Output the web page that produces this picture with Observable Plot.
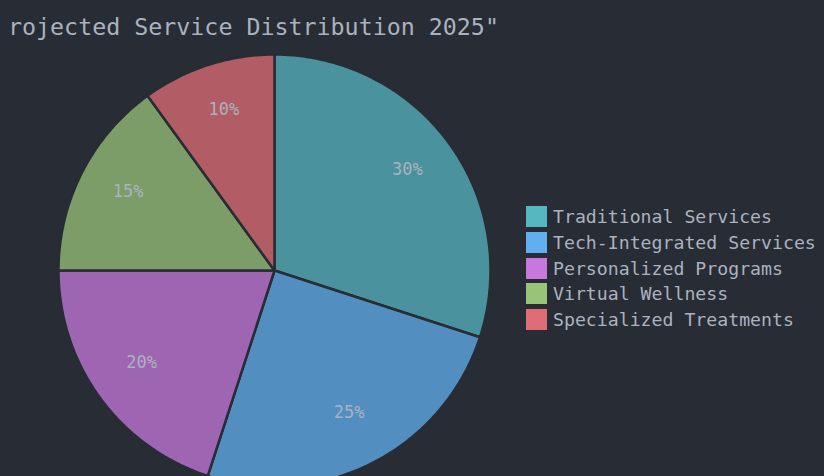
<!DOCTYPE html>
<html>
<head>
<meta charset="utf-8">
<script src="https://cdn.jsdelivr.net/npm/d3@7"></script>
<script src="https://cdn.jsdelivr.net/npm/@observablehq/plot@0.6"></script>
<style>
  html, body { margin: 0; padding: 0; background: #282c34; }
  #wrap { position: relative; width: 824px; height: 476px; overflow: hidden; background: #282c34; }
  #title { position: absolute; left: 8px; top: 12px; white-space: nowrap; font-family: "DejaVu Sans Mono", monospace; font-size: 23.3px; color: #abb2bf; line-height: 30px; }
  #legend { position: absolute; left: 526px; top: 204px; font-family: "DejaVu Sans Mono", monospace; font-size: 18.2px; color: #abb2bf; }
  .row { display: flex; align-items: center; height: 25.7px; }
  .sw { width: 21px; height: 21px; margin-right: 6px; }
</style>
</head>
<body>
<div id="wrap">
  <div id="chart"></div>
  <div id="title"></div>
  <div id="legend"></div>
</div>
<script>
// Title as visible in the reference (its start is cut off at the left edge there)
const title = "rojected Service Distribution 2025\"";
const categories = ["Traditional Services", "Tech-Integrated Services", "Personalized Programs", "Virtual Wellness", "Specialized Treatments"];
const values = [30, 25, 20, 15, 10];
const colors = ["#56b6c2", "#61afef", "#c678dd", "#98c379", "#e06c75"];

const W = 824, H = 476, CX = 274, CY = 270, R = 216;

const arcs = d3.pie().sort(null).value(d => d)(values);
const polys = [];
arcs.forEach((a, i) => {
  const cat = categories[i];
  polys.push({cat, x: 0, y: 0});
  const n = Math.max(4, Math.ceil((a.endAngle - a.startAngle) / 0.01));
  for (let k = 0; k <= n; k++) {
    const t = a.startAngle + (a.endAngle - a.startAngle) * k / n;
    polys.push({cat, x: Math.sin(t), y: Math.cos(t)});
  }
  polys.push({cat, x: 0, y: 0});
});
const labels = arcs.map((a, i) => {
  const m = (a.startAngle + a.endAngle) / 2;
  return {text: values[i] + "%", x: 0.76 * Math.sin(m), y: 0.76 * Math.cos(m)};
});

const chart = Plot.plot({
  width: W, height: H, margin: 0,
  style: {background: "transparent", color: "#abb2bf", fontFamily: "DejaVu Sans Mono, monospace"},
  x: {domain: [-CX / R, (W - CX) / R], axis: null},
  y: {domain: [-(H - CY) / R, CY / R], axis: null},
  color: {domain: categories, range: colors},
  marks: [
    Plot.line(polys, {x: "x", y: "y", z: "cat", fill: "cat", fillOpacity: 0.75, stroke: "#282c34", strokeWidth: 2.5, strokeLinejoin: "round"}),
    Plot.text(labels, {x: "x", y: "y", text: "text", fill: "#abb2bf", fontSize: 17, dy: -4.5, fontFamily: "DejaVu Sans Mono, monospace"})
  ]
});
document.getElementById("chart").appendChild(chart);
document.getElementById("title").textContent = title;
const lg = document.getElementById("legend");
categories.forEach((c, i) => {
  const row = document.createElement("div");
  row.className = "row";
  const sw = document.createElement("div");
  sw.className = "sw";
  sw.style.background = colors[i];
  const tx = document.createElement("span");
  tx.textContent = c;
  row.appendChild(sw); row.appendChild(tx);
  lg.appendChild(row);
});
</script>
</body>
</html>
